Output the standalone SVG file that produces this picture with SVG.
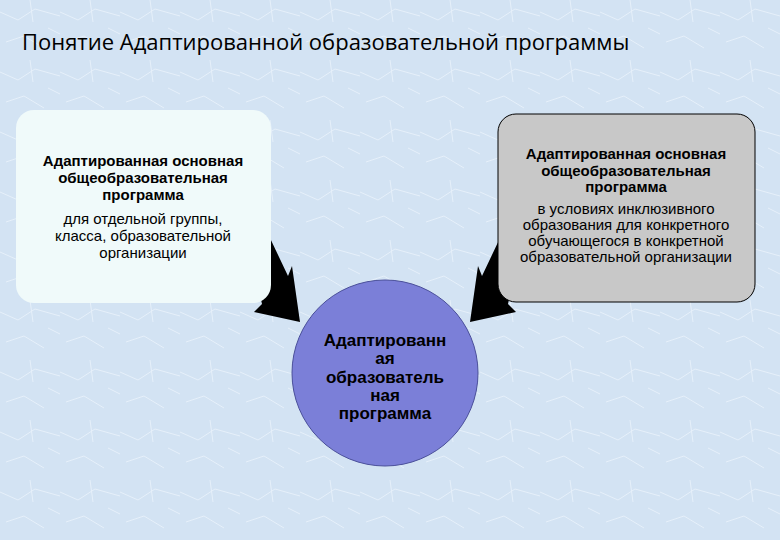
<svg xmlns="http://www.w3.org/2000/svg" width="780" height="540" viewBox="0 0 780 540">
<defs>
<pattern id="bgp" width="60" height="60" patternUnits="userSpaceOnUse">
<rect width="60" height="60" fill="#d3e3f3"/>
<path d="M0 12 L18 20 L35 9 L60 16 M6 42 L24 36 L44 48 M30 0 L33 22 M48 28 L60 34" stroke="#e6f0fa" stroke-width="1" fill="none"/>
</pattern>
<style>
.t{font-family:"Liberation Sans",Arial,sans-serif;fill:#000;text-anchor:middle}
.b{font-weight:bold;font-size:15px}
.n{font-size:15px}
.c{font-weight:bold;font-size:17px}
</style>
</defs>
<rect width="780" height="540" fill="url(#bgp)"/>
<text x="22" y="50" style="font-family:'Open Sans','Liberation Sans',sans-serif;font-size:22px">Понятие Адаптированной образовательной программы</text>
<g id="connectors" fill="#000">
<polygon points="250,250 270,238 288,276 292,266 300,322 254,312 262,304"/>
<polygon points="520,250 500,238 482,276 478,266 470,322 516,312 508,304"/>
</g>
<g id="left">
<rect x="16" y="110" width="255" height="193" rx="18" fill="#f0fafa"/>
<text class="t b" x="143" y="166">Адаптированная  основная</text>
<text class="t b" x="143" y="183">общеобразовательная</text>
<text class="t b" x="143" y="200">программа</text>
<text class="t n" x="143" y="224">для отдельной группы,</text>
<text class="t n" x="143" y="241">класса, образовательной</text>
<text class="t n" x="143" y="258">организации</text>
</g>
<g id="right">
<rect x="498" y="114" width="257" height="188" rx="18" fill="#c8c8c8" stroke="#000" stroke-width="1"/>
<text class="t b" x="626" y="159">Адаптированная основная</text>
<text class="t b" x="626" y="176">общеобразовательная</text>
<text class="t b" x="626" y="192">программа</text>
<text class="t n" x="626" y="214">в условиях  инклюзивного</text>
<text class="t n" x="626" y="230">образования для конкретного</text>
<text class="t n" x="626" y="246">обучающегося в конкретной</text>
<text class="t n" x="626" y="262">образовательной организации</text>
</g>
<g id="center">
<circle cx="385" cy="373" r="93" fill="#7b7fd8" stroke="#4a4f9a" stroke-width="1"/>
<text class="t c" x="385" y="346">Адаптированн</text>
<text class="t c" x="385" y="364">ая</text>
<text class="t c" x="385" y="383">образователь</text>
<text class="t c" x="385" y="401">ная</text>
<text class="t c" x="385" y="419">программа</text>
</g>
</svg>
